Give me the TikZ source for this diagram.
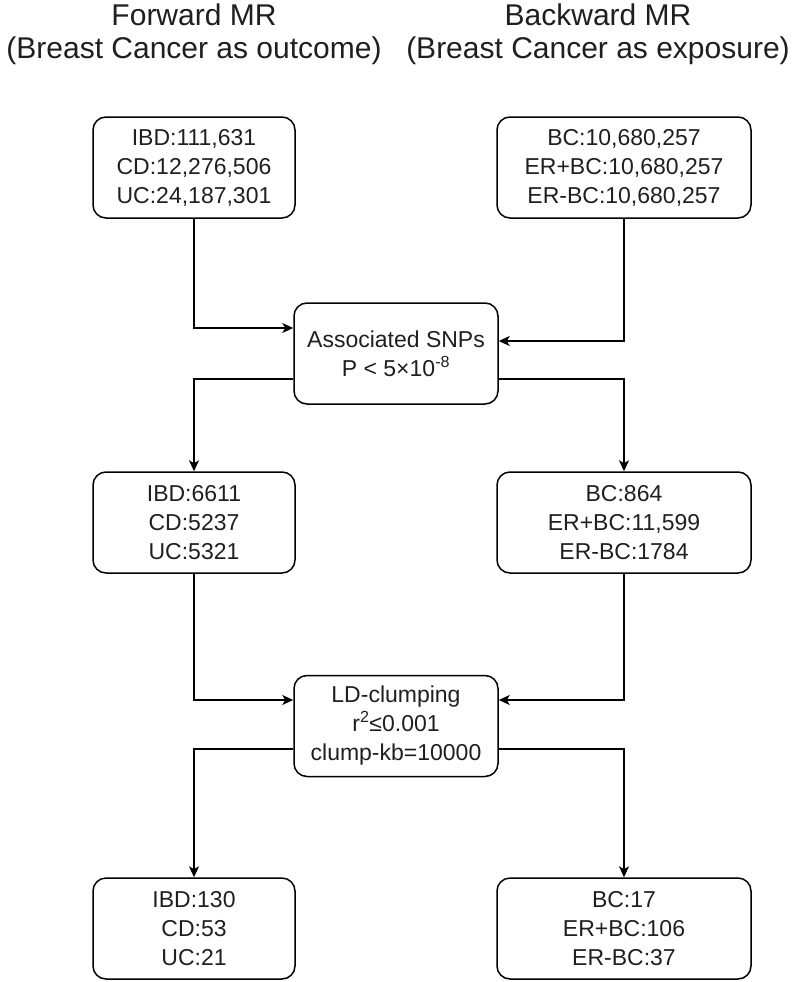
\documentclass[tikz,border=0pt]{standalone}
\usepackage{fontspec}
\setmainfont{Liberation Sans}
\usetikzlibrary{arrows.meta}
\begin{document}
\begin{tikzpicture}[x=1pt,y=-1pt,
  box/.style={draw=black, line width=1.5pt, rounded corners=13pt, minimum height=101pt, inner sep=0pt, align=center, text=black!88, font=\fontsize{23}{29}\selectfont},
  lbox/.style={box, minimum width=202pt},
  rbox/.style={box, minimum width=254pt},
  cbox/.style={box, minimum width=204pt},
  arr/.style={line width=1.5pt, -{Stealth[length=11pt,width=10pt,inset=3pt]}},
  title/.style={align=center, inner sep=0pt, text=black!88, font=\fontsize{30}{33}\selectfont}]
\useasboundingbox (0,0) rectangle (796,982);
\node[title] (t1) at (194,34) {Forward MR\\(Breast Cancer as outcome)};
\node[title] (t2) at (598,34) {Backward MR\\(Breast Cancer as exposure)};
\node[lbox] (a1) at (194,167.5) {IBD:111,631\\CD:12,276,506\\UC:24,187,301};
\node[rbox] (b1) at (624,167.5) {BC:10,680,257\\ER+BC:10,680,257\\ER-BC:10,680,257};
\node[cbox] (c1) at (396,353.5) {Associated SNPs\\P < 5×10\textsuperscript{-8}};
\node[lbox] (a2) at (194,522.5) {IBD:6611\\CD:5237\\UC:5321};
\node[rbox] (b2) at (624,522.5) {BC:864\\ER+BC:11,599\\ER-BC:1784};
\node[cbox] (c2) at (396,726) {LD-clumping\\r\textsuperscript{2}≤0.001\\clump-kb=10000};
\node[lbox] (a3) at (194,928.5) {IBD:130\\CD:53\\UC:21};
\node[rbox] (b3) at (624,928.5) {BC:17\\ER+BC:106\\ER-BC:37};
\draw[arr] (a1.south) |- ([yshift=25.5pt]c1.west);
\draw[arr] (b1.south) |- ([yshift=12.5pt]c1.east);
\draw[arr] ([yshift=-25.5pt]c1.west) -| (a2.north);
\draw[arr] ([yshift=-25.5pt]c1.east) -| (b2.north);
\draw[arr] (a2.south) |- ([yshift=26pt]c2.west);
\draw[arr] (b2.south) |- ([yshift=26pt]c2.east);
\draw[arr] ([yshift=-23pt]c2.west) -| (a3.north);
\draw[arr] ([yshift=-23pt]c2.east) -| (b3.north);
\end{tikzpicture}
\end{document}
